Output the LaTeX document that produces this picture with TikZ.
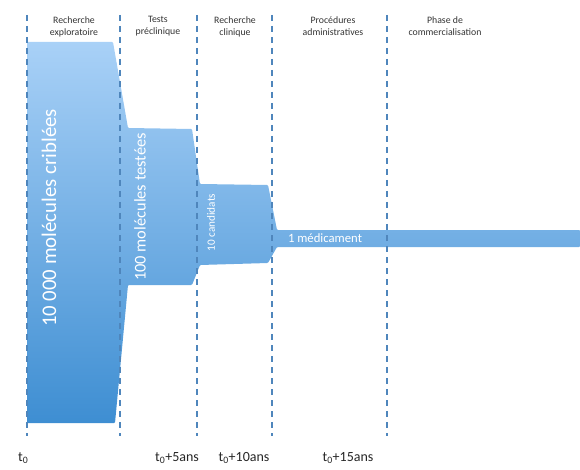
\documentclass[tikz,border=0pt]{standalone}
\usepackage{fontspec}
\setmainfont{Carlito}
\begin{document}
\begin{tikzpicture}[x=1pt,y=-1pt,
  phase/.style={font=\fontsize{9.8}{12}\selectfont, text=black!80, align=center, inner sep=0pt},
  timelbl/.style={font=\fontsize{14}{16}\selectfont, text=black!85, anchor=base, inner sep=0pt},
  inlbl/.style={text=white, inner sep=0pt},
  sep/.style={draw=sepblue, line width=1.4pt, dash pattern=on 6pt off 5pt}]
\definecolor{sepblue}{HTML}{4F86BC}
\definecolor{toplight}{HTML}{A9D1F7}
\definecolor{botdark}{HTML}{3E8ED2}
\useasboundingbox (0,0) rectangle (580,470);
% funnel shape
\shade[top color=toplight, bottom color=botdark, rounded corners=1pt]
  (27,42) -- (113,42) -- (128,128) -- (192,129) -- (200,184) -- (268,185)
  -- (277,230) -- (580,230) -- (580,247) -- (277,247) -- (268,263)
  -- (200,265) -- (192,285) -- (128,285) -- (115,423) -- (27,423) -- cycle;
% separators
\foreach \n/\x in {s0/27,s1/120,s2/197,s3/272,s4/387}{
  \coordinate (\n top) at (\x,15);
  \coordinate (\n bot) at (\x,436);
  \draw[sep] (\n top) -- (\n bot);
}
% phase headers
\node[phase] (h1) at (74,26.5) {Recherche\\exploratoire};
\node[phase] (h2) at (158,26.5) {Tests\\préclinique};
\node[phase] (h3) at (235,26.5) {Recherche\\clinique};
\node[phase] (h4) at (333,26.5) {Procédures\\administratives};
\node[phase] (h5) at (445,26.5) {Phase de\\commercialisation};
% inner labels
\node[inlbl, rotate=90, font=\fontsize{20.8}{24}\selectfont] (l1) at (49,218) {10 000 molécules criblées};
\node[inlbl, rotate=90, font=\fontsize{16.4}{19}\selectfont] (l2) at (140,207) {100 molécules testées};
\node[inlbl, rotate=90, font=\fontsize{11.2}{13}\selectfont] (l3) at (211,222.5) {10 candidats};
\node[inlbl, font=\fontsize{12.7}{15}\selectfont] (l4) at (325,238.5) {1 médicament};
% time labels
\node[timelbl, anchor=base west] (t0) at (18,461) {t\textsubscript{0}};
\node[timelbl] (t5) at (177,461) {t\textsubscript{0}+5ans};
\node[timelbl] (t10) at (244,461) {t\textsubscript{0}+10ans};
\node[timelbl] (t15) at (348,461) {t\textsubscript{0}+15ans};
\end{tikzpicture}
\end{document}
